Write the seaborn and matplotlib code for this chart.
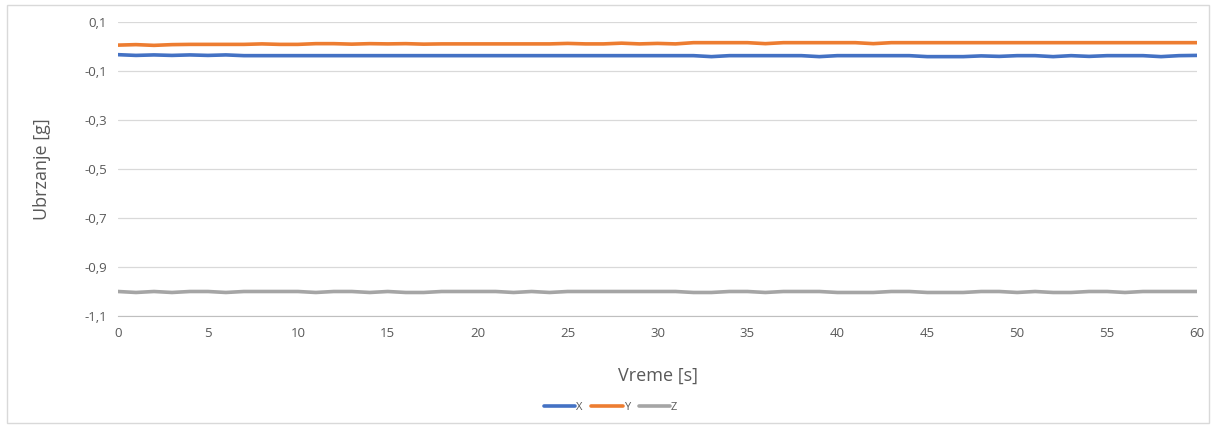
import numpy as np
import pandas as pd
import matplotlib
matplotlib.use("Agg")
import matplotlib.pyplot as plt
from matplotlib.ticker import FuncFormatter
import seaborn as sns

# time axis [s], one sample per second
vreme = list(range(0, 61))

# acceleration [g]
acc_x = [-0.033, -0.036, -0.034, -0.036, -0.034, -0.036, -0.034, -0.037, -0.037, -0.037,
         -0.037, -0.037, -0.037, -0.037, -0.037, -0.037, -0.037, -0.037, -0.037, -0.037,
         -0.037, -0.037, -0.037, -0.037, -0.037, -0.037, -0.037, -0.037, -0.037, -0.037,
         -0.037, -0.037, -0.037, -0.041, -0.037, -0.037, -0.037, -0.037, -0.037, -0.041,
         -0.037, -0.037, -0.037, -0.037, -0.037, -0.041, -0.041, -0.041, -0.038, -0.040,
         -0.037, -0.037, -0.041, -0.037, -0.040, -0.037, -0.037, -0.037, -0.041, -0.037,
         -0.036]
acc_y = [0.006, 0.008, 0.005, 0.008, 0.009, 0.009, 0.009, 0.009, 0.011, 0.009,
         0.009, 0.012, 0.012, 0.010, 0.012, 0.011, 0.012, 0.010, 0.011, 0.011,
         0.011, 0.011, 0.011, 0.011, 0.011, 0.013, 0.011, 0.011, 0.014, 0.011,
         0.013, 0.011, 0.016, 0.016, 0.016, 0.016, 0.012, 0.016, 0.016, 0.016,
         0.016, 0.016, 0.012, 0.016, 0.016, 0.016, 0.016, 0.016, 0.016, 0.016,
         0.016, 0.016, 0.016, 0.016, 0.016, 0.016, 0.016, 0.016, 0.016, 0.016,
         0.016]
acc_z = [-1.000, -1.004, -1.000, -1.004, -1.000, -1.000, -1.004, -1.000, -1.000, -1.000,
         -1.000, -1.004, -1.000, -1.000, -1.004, -1.000, -1.004, -1.004, -1.000, -1.000,
         -1.000, -1.000, -1.004, -1.000, -1.004, -1.000, -1.000, -1.000, -1.000, -1.000,
         -1.000, -1.000, -1.004, -1.004, -1.000, -1.000, -1.004, -1.000, -1.000, -1.000,
         -1.004, -1.004, -1.004, -1.000, -1.000, -1.004, -1.004, -1.004, -1.000, -1.000,
         -1.004, -1.000, -1.004, -1.004, -1.000, -1.000, -1.004, -1.000, -1.000, -1.000,
         -1.000]

serije = ["X", "Y", "Z"]
boje = ["#4472C4", "#ED7D31", "#A5A5A5"]

df = pd.DataFrame({
    "Vreme": vreme * 3,
    "Ubrzanje": acc_x + acc_y + acc_z,
    "Osa": ["X"] * len(vreme) + ["Y"] * len(vreme) + ["Z"] * len(vreme),
})

sns.set_style("white")
plt.rcParams["font.family"] = ["Open Sans", "DejaVu Sans"]

fig = plt.figure(figsize=(12.14, 4.25), dpi=100)
ax = fig.add_axes([0.0972, 0.2565, 0.8888, 0.6915])

sns.lineplot(data=df, x="Vreme", y="Ubrzanje", hue="Osa", hue_order=serije,
             palette=boje, linewidth=2.6, ax=ax, legend=False)

ax.set_xlim(0, 60)
ax.set_ylim(-1.1, 0.1)
ax.set_xticks(range(0, 61, 5))
ax.set_yticks(np.arange(-1.1, 0.11, 0.2))
ax.yaxis.set_major_formatter(FuncFormatter(lambda v, p: f"{v:.1f}".replace(".", ",")))
ax.grid(axis="y", color="#D9D9D9", linewidth=0.9)
ax.grid(axis="x", visible=False)
for s in ["top", "right", "left"]:
    ax.spines[s].set_visible(False)
ax.spines["bottom"].set_color("#BFBFBF")
ax.spines["bottom"].set_zorder(0)
ax.tick_params(axis="both", length=0, labelsize=9.5, labelcolor="#595959", pad=8)

ax.set_xlabel("Vreme [s]", fontsize=13, color="#595959", labelpad=19)
ax.set_ylabel("Ubrzanje [g]", fontsize=13, color="#595959", labelpad=24)

handles = [plt.Line2D([], [], color=c, linewidth=2.6) for c in boje]
fig.legend(handles, serije, loc="center", bbox_to_anchor=(0.503, 0.042), ncol=3,
           frameon=False, fontsize=8, handlelength=2.8, handletextpad=0.1,
           columnspacing=0.8, labelcolor="#595959")

# chart border like the spreadsheet frame
fig.patches.append(plt.Rectangle((0.006, 0.004), 0.99, 0.984, transform=fig.transFigure,
                                 fill=False, edgecolor="#D9D9D9", linewidth=1))

fig.savefig("out.png", dpi=100)
